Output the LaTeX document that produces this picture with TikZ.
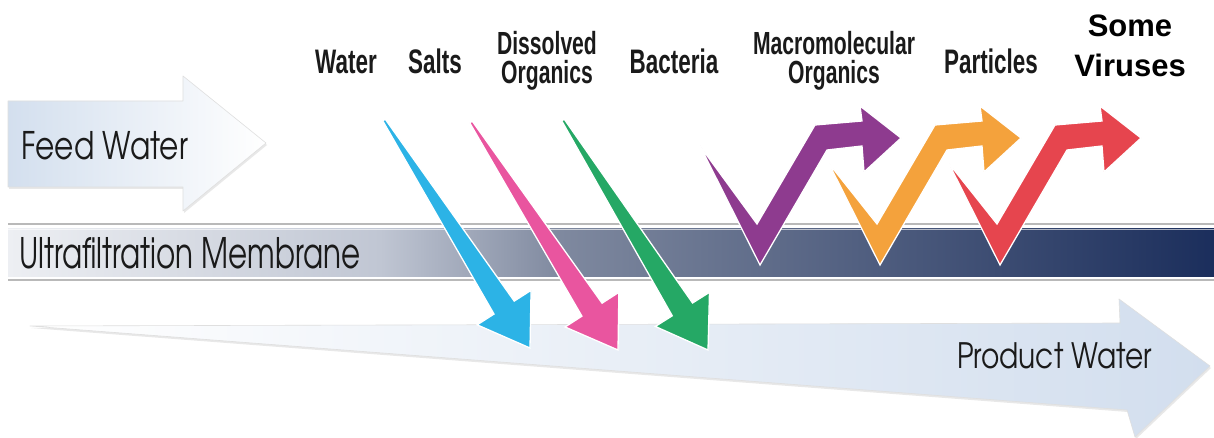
\documentclass[tikz,border=0pt]{standalone}
\usepackage{fontspec}
\usepackage{tikz}
\usetikzlibrary{calc,shadows}

\setmainfont{Liberation Sans}
\newfontfamily\narrowfont{Liberation Sans}[FakeStretch=0.66]
\newfontfamily\feedfont{texgyreadventor-regular.otf}[FakeStretch=0.78]
\newfontfamily\bandfont{texgyreadventor-regular.otf}[FakeStretch=0.70]
\newfontfamily\prodfont{texgyreadventor-regular.otf}[FakeStretch=0.80]

\definecolor{feedblue}{HTML}{D3DFEE}
\definecolor{prodblue}{HTML}{D2DEEE}
\definecolor{bandlight}{HTML}{EDEFF3}
\definecolor{bandmid}{HTML}{C0C6D3}
\definecolor{bandgray}{HTML}{7F899F}
\definecolor{bandnavy}{HTML}{1B2E5C}
\definecolor{arrcyan}{HTML}{2CB3E6}
\definecolor{arrpink}{HTML}{E9559F}
\definecolor{arrgreen}{HTML}{25A865}
\definecolor{arrpurple}{HTML}{8E3B8F}
\definecolor{arrorange}{HTML}{F4A23C}
\definecolor{arrred}{HTML}{E6454E}
\definecolor{inkblack}{HTML}{1A1A1A}

\tikzset{
  bigarrow/.style={draw=gray!25, line width=0.6pt,
    drop shadow={shadow xshift=1pt, shadow yshift=-2pt, opacity=0.18}},
  passarrow/.style={draw=white, line width=1.3pt, line join=miter},
  toptext/.style={anchor=base, inner sep=0, text=inkblack,
    font=\narrowfont\bfseries\fontsize{34}{34}\selectfont},
  twotext/.style={align=center, inner sep=0, text=inkblack,
    font=\narrowfont\bfseries\fontsize{32}{29}\selectfont},
  virustext/.style={align=center, inner sep=0, text=black,
    font=\bfseries\fontsize{31}{40}\selectfont},
  gothictext/.style={anchor=base west, inner sep=0, text=inkblack}
}

\begin{document}
\begin{tikzpicture}[x=1pt, y=-1pt, line join=round]
  \useasboundingbox[fill=white] (0,0) rectangle (1214,438);

  % --- feed water ---
  \path[bigarrow, left color=feedblue, right color=white]
    (8,101) -- (183,101) -- (183,76) -- (266,143) -- (183,211) -- (183,187) -- (8,187) -- cycle;
  \node[gothictext, font=\feedfont\fontsize{38}{38}\selectfont] (feed) at (21,160) {Feed Water};

  % --- membrane ---
  \draw[gray!55, line width=2pt] (8,224) -- (1214,224);
  \draw[gray!55, line width=2pt] (8,280) -- (1214,280);
  \fill[left color=bandlight, right color=bandmid] (8,229) rectangle (381,276);
  \fill[left color=bandmid, right color=bandgray] (380,229) rectangle (561,276);
  \fill[left color=bandgray, right color=bandnavy] (560,229) rectangle (1214,276);
  \draw[white, opacity=0.6, line width=1pt] (8,230) -- (1214,230);
  \node[gothictext, font=\bandfont\fontsize{42}{42}\selectfont] (membrane) at (19,268) {Ultrafiltration Membrane};

  % --- product water ---
  \path[bigarrow, left color=white, right color=prodblue]
    (30,326) -- (1120,323) -- (1119,299) -- (1210,366) -- (1135,437) -- (1127,410) -- cycle;
  \node[gothictext, font=\prodfont\fontsize{35}{35}\selectfont] (product) at (957,368) {Product Water};

  % --- passing through ---
  \foreach \col/\tx/\ty/\px/\py in {arrcyan/384/120/530/348, arrpink/471/122/618/350, arrgreen/563/120/708/350} {
    \coordinate (dT) at (\tx,\ty);
    \coordinate (dP) at (\px,\py);
    \coordinate (dB) at ($(dP)!48pt!(dT)$);
    \path[passarrow, fill=\col] ($(dT)!1.5pt!90:(dP)$) -- ($(dB)!12pt!90:(dP)$) -- ($(dB)!32pt!90:(dP)$)
      -- (dP) -- ($(dB)!32pt!-90:(dP)$) -- ($(dB)!12pt!-90:(dP)$) -- ($(dT)!1.5pt!-90:(dP)$) -- cycle;
  }

  % --- rejected ---
  \foreach \col/\sh/\ty in {arrpurple/0/146, arrorange/120/163, arrred/240/163} {
    \begin{scope}[xshift=\sh pt]
      \path[passarrow, fill=\col] ({700+(\ty-146)*0.504},\ty) -- (760,265) -- (827,150) -- (862,146)
        -- (864,172) -- (901,138) -- (860,106) -- (862,121) -- (815,125) -- (757,224) -- cycle;
    \end{scope}
  }

  % --- labels ---
  \node[toptext] (water) at (346,74) {Water};
  \node[toptext] (salts) at (435,74) {Salts};
  \node[twotext] (dissolved) at (547,61) {Dissolved\\Organics};
  \node[toptext] (bacteria) at (674,74) {Bacteria};
  \node[twotext] (macro) at (834,61) {Macromolecular\\Organics};
  \node[toptext] (particles) at (991,74) {Particles};
  \node[virustext] (viruses) at (1130,46) {Some\\Viruses};
\end{tikzpicture}
\end{document}
